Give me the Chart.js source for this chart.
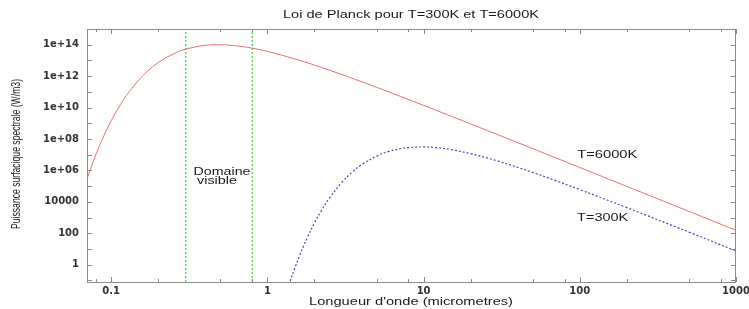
<!DOCTYPE html>
<html lang="fr">
<head>
<meta charset="UTF-8">
<title>Loi de Planck</title>
<style>
  html, body { margin: 0; padding: 0; background: #fff; }
  #wrap { width: 749px; height: 309px; }
</style>
</head>
<body>
<div id="wrap"><canvas id="planck" width="749" height="309"></canvas></div>
<script src="https://cdn.jsdelivr.net/npm/chart.js"></script>
<script>
// values (W/m3 against micrometres)
const wl6000 = [0.07, 0.08, 0.09, 0.1, 0.11, 0.12, 0.13, 0.15, 0.17, 0.2, 0.25, 0.3, 0.4, 0.5, 0.6, 0.7, 0.8, 1, 1.5, 2, 3, 5, 7, 10, 20, 50, 100, 200, 500, 1000];
const m6000 = [2.94e5, 1.10e7, 1.70e8, 1.44e9, 7.90e9, 3.15e10, 9.82e10, 5.62e11, 1.97e12, 7.26e12, 2.61e13, 5.20e13, 9.12e13, 9.98e13, 9.01e13, 7.48e13, 6.00e13, 3.74e13, 1.25e13, 5.05e12, 1.26e12, 1.95e11, 5.45e10, 1.38e10, 9.18e8, 2.44e7, 1.54e6, 9.69e4, 2490, 156];
const wl300 = [1.3, 1.4, 1.5, 1.6, 1.7, 1.8, 2, 2.2, 2.5, 3, 3.5, 4, 5, 6, 7, 8, 10, 12, 15, 20, 30, 50, 70, 100, 200, 500, 1000];
const m300 = [0.0096, 0.092, 0.64, 3.42, 14.8, 53.2, 450, 2470, 1.79e4, 1.76e5, 7.98e5, 2.27e6, 8.17e6, 1.63e7, 2.36e7, 2.85e7, 3.12e7, 2.82e7, 2.10e7, 1.17e7, 3.90e6, 7.44e5, 2.26e5, 6.08e4, 4315, 119, 7.6];
const visibleLimits = [0.3, 0.8];

const xMajor = [0.1, 1, 10, 100, 1000];
const xTicks = [0.08, 0.1, 0.2, 0.5, 0.8, 1, 2, 5, 8, 10, 20, 50, 80, 100, 200, 500, 800, 1000];
const yTicks = [0.1, 1, 10, 100, 1e3, 1e4, 1e5, 1e6, 1e7, 1e8, 1e9, 1e10, 1e11, 1e12, 1e13, 1e14];
const yLabelled = [1, 100, 1e4, 1e6, 1e8, 1e10, 1e12, 1e14];

const xRange = [0.07, 1000];
const yRange = [0.08, 1e15];

function pts(xs, ys) { return xs.map((x, i) => ({ x: x, y: ys[i] })); }
function vline(x) { return [{ x: x, y: yRange[0] }, { x: x, y: yRange[1] }]; }

function yLabel(v) {
    if (!yLabelled.includes(v)) return '';
    if (v >= 1e5) return '1e+' + String(Math.round(Math.log10(v))).padStart(2, '0');
    return String(v);
}

function fitText(ctx, text, cx, cy, width, font, rot) {
    ctx.save();
    ctx.font = font;
    ctx.fillStyle = '#1a1a1a';
    ctx.textAlign = 'center';
    ctx.textBaseline = 'middle';
    const w = ctx.measureText(text).width;
    ctx.translate(cx, cy);
    if (rot) ctx.rotate(rot);
    ctx.scale(width / w, 1);
    ctx.fillText(text, 0, 0);
    ctx.restore();
}

const framePlugin = {
    id: 'frame',
    afterDraw(chart) {
        const ctx = chart.ctx;
        const a = chart.chartArea;
        const xs = chart.scales.x, ys = chart.scales.y;
        ctx.save();
        ctx.strokeStyle = '#8a8a8a';
        ctx.lineWidth = 1;
        ctx.strokeRect(a.left + 0.5, a.top + 0.5, a.right - a.left - 1, a.bottom - a.top);
        ctx.beginPath();
        xTicks.forEach(v => {
            const px = Math.round(xs.getPixelForValue(v)) + 0.5;
            const len = xMajor.includes(v) ? 5 : 3;
            ctx.moveTo(px, a.bottom); ctx.lineTo(px, a.bottom - len);
            ctx.moveTo(px, a.top); ctx.lineTo(px, a.top + len);
        });
        yTicks.forEach(v => {
            const py = Math.round(ys.getPixelForValue(v)) + 0.5;
            ctx.moveTo(a.left, py); ctx.lineTo(a.left + 5, py);
            ctx.moveTo(a.right, py); ctx.lineTo(a.right - 5, py);
        });
        ctx.stroke();
        ctx.restore();

        const f = '11px "Liberation Sans", Arial, sans-serif';
        fitText(ctx, 'Loi de Planck pour T=300K et T=6000K', 411, 15, 256, f);
        fitText(ctx, 'Longueur d\'onde (micrometres)', 411, 302, 204, f);
        fitText(ctx, 'Puissance surfacique spectrale (W/m3)', 17, 154, 150, '12.5px "Liberation Sans", Arial, sans-serif', -Math.PI / 2);
        fitText(ctx, 'Domaine', 222, 172, 57, f);
        fitText(ctx, 'visible', 217, 181, 40, f);
        fitText(ctx, 'T=6000K', xs.getPixelForValue(150), ys.getPixelForValue(1e7), 60, f);
        fitText(ctx, 'T=300K', xs.getPixelForValue(140), ys.getPixelForValue(900), 51, f);
    }
};

new Chart(document.getElementById('planck'), {
    type: 'line',
    data: {
        datasets: [
            { label: 'T=6000K', data: pts(wl6000, m6000), borderColor: 'rgb(226,112,112)', borderWidth: 1, pointRadius: 0, tension: 0.4 },
            { label: 'T=300K', data: pts(wl300, m300), borderColor: 'rgb(70,70,200)', borderWidth: 1.2, borderDash: [2, 2], pointRadius: 0, tension: 0.4 },
            { label: 'vis1', data: vline(visibleLimits[0]), borderColor: 'rgb(80,230,80)', borderWidth: 1.5, borderDash: [2, 2], pointRadius: 0 },
            { label: 'vis2', data: vline(visibleLimits[1]), borderColor: 'rgb(80,230,80)', borderWidth: 1.5, borderDash: [2, 2], pointRadius: 0 }
        ]
    },
    options: {
        responsive: false,
        animation: false,
        layout: { padding: { top: 29, right: 13, left: 0, bottom: 0 } },
        plugins: { legend: { display: false }, tooltip: { enabled: false } },
        scales: {
            x: {
                type: 'logarithmic',
                min: xRange[0], max: xRange[1],
                grid: { display: false, drawTicks: false },
                border: { display: false },
                afterBuildTicks: s => { s.ticks = xTicks.map(v => ({ value: v })); },
                afterFit: s => { s.height = 27; s.paddingLeft = 0; s.paddingRight = 0; },
                ticks: {
                    autoSkip: false, maxRotation: 0, padding: 3, color: '#333',
                    font: { family: 'DejaVu Sans', size: 10, weight: 'bold' },
                    callback: v => xMajor.includes(v) ? String(v) : ''
                }
            },
            y: {
                type: 'logarithmic',
                min: yRange[0], max: yRange[1],
                grid: { display: false, drawTicks: false },
                border: { display: false },
                afterBuildTicks: s => { s.ticks = yTicks.map(v => ({ value: v })); },
                afterFit: s => { s.width = 87; s.paddingTop = 0; s.paddingBottom = 0; },
                ticks: {
                    autoSkip: false, padding: 8, color: '#333',
                    font: { family: 'DejaVu Sans', size: 10, weight: 'bold' },
                    callback: v => yLabel(v)
                }
            }
        }
    },
    plugins: [framePlugin]
});
</script>
</body>
</html>
